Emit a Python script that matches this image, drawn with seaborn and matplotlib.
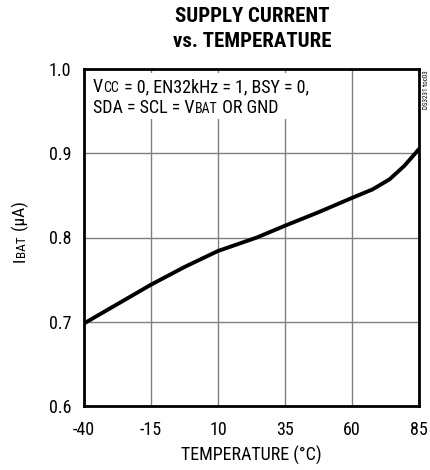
import numpy as np
import pandas as pd
import seaborn as sns
import matplotlib
matplotlib.use("Agg")
import matplotlib.pyplot as plt
from matplotlib.transforms import IdentityTransform
from matplotlib.patches import Rectangle

# ---- data ----
temp_c = [-40, -27.5, -15, -2.5, 10, 24.5, 35, 47.5, 60, 67.6, 74, 79.5, 82, 85]
i_bat_ua = [0.698, 0.721, 0.744, 0.765, 0.784, 0.800, 0.814, 0.830, 0.847,
            0.857, 0.869, 0.885, 0.894, 0.905]
x_ticks = [-40, -15, 10, 35, 60, 85]
y_ticks = [0.6, 0.7, 0.8, 0.9, 1.0]
y_tick_labels = ["0.6", "0.7", "0.8", "0.9", "1.0"]
title_line1 = "SUPPLY CURRENT"
title_line2 = "vs. TEMPERATURE"
x_label = "TEMPERATURE (\u00b0C)"
ylabel_pieces = [("I", 12.5), ("BAT", 9.5), (" (\u00b5A)", 12.5)]
cond_line1 = [("V", 13), ("CC", 10), (" = 0, EN32kHz = 1, BSY = 0,", 13)]
cond_line2 = [("SDA = SCL = V", 13), ("BAT", 10), (" OR GND", 13)]
tag_text = "DS3231 toc03"

df = pd.DataFrame({"temp": temp_c, "ibat": i_bat_ua})

sns.set_theme(style="white")
FAM = ["Roboto Condensed", "Archivo Narrow", "DejaVu Sans"]
plt.rcParams["font.family"] = FAM

W, H = 430, 470
fig = plt.figure(figsize=(W / 100, H / 100), dpi=100)
fig.patch.set_facecolor("white")
L, R, T, B = 84, 419, 69, 406
ax = fig.add_axes([L / W, 1 - B / H, (R - L) / W, (B - T) / H])

sns.lineplot(data=df, x="temp", y="ibat", color="black", lw=2.8, ax=ax, zorder=3)

ax.set_xlim(-40, 85)
ax.set_ylim(0.6, 1.0)
ax.set_xticks(x_ticks)
ax.set_xticklabels([str(v) for v in x_ticks])
ax.set_yticks(y_ticks)
ax.set_yticklabels(y_tick_labels)
ax.tick_params(length=0, labelsize=13, colors="black")
ax.tick_params(axis="x", pad=11)
ax.tick_params(axis="y", pad=9)
ax.set_xlabel(x_label, fontsize=13, color="black", labelpad=5)
ax.set_ylabel("")
ax.grid(True, color="#808080", lw=1.0)
ax.set_axisbelow(True)
for s in ax.spines.values():
    s.set_color("black")
    s.set_linewidth(2.0)

# white box behind the conditions text
ax.add_patch(Rectangle((-40, 0.9405), 95, 0.0545, facecolor="white",
                       edgecolor="none", zorder=1))

fig.text(252 / W, 1 - 22 / H, title_line1, ha="center", va="baseline",
         fontsize=15, fontweight="bold", color="black")
fig.text(252 / W, 1 - 47 / H, title_line2, ha="center", va="baseline",
         fontsize=15, fontweight="bold", color="black")

fig.canvas.draw()
renderer = fig.canvas.get_renderer()
tr = IdentityTransform()


def pieces(parts, x, y, rotation=0):
    for s, size in parts:
        t = fig.text(x, y, s, fontsize=size, transform=tr, ha="left",
                     va="baseline", rotation=rotation, rotation_mode="anchor",
                     color="black")
        bb = t.get_window_extent(renderer)
        if rotation == 0:
            x += bb.width + 0.5
        else:
            y += bb.height + 0.5


pieces(cond_line1, 93, H - 92)
pieces(cond_line2, 93, H - 113)
pieces(ylabel_pieces, 25, H - 262, rotation=90)

fig.text(427 / W, 1 - 90 / H, tag_text, fontsize=5, rotation=90,
         ha="center", va="center", color="black")

fig.savefig("out.png", dpi=100, facecolor="white")
